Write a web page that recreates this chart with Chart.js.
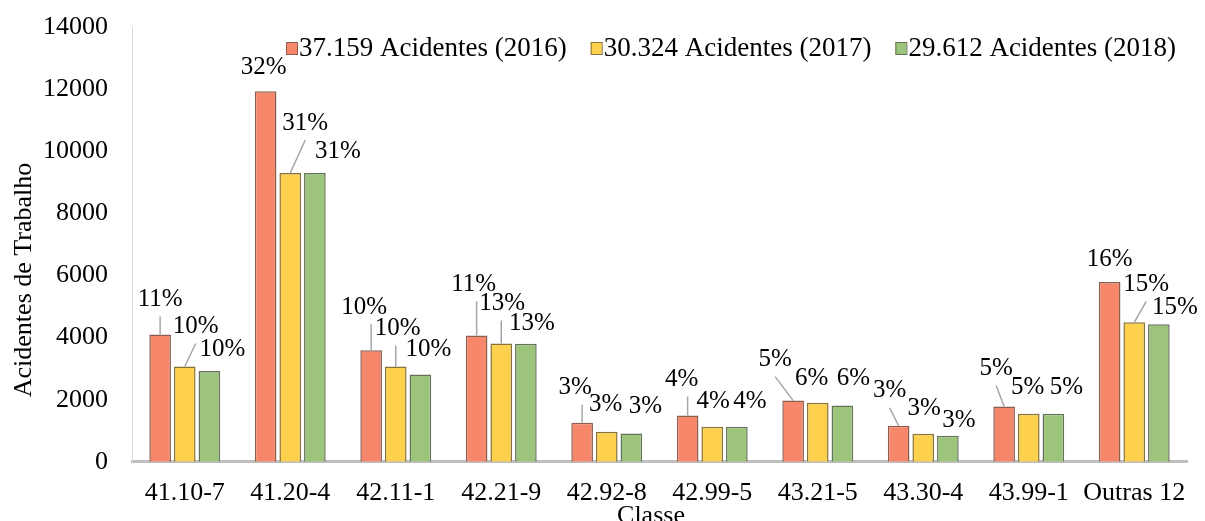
<!DOCTYPE html>
<html>
<head>
<meta charset="utf-8">
<script src="https://cdn.jsdelivr.net/npm/chart.js@4.4.0/dist/chart.umd.min.js"></script>
<style>
  html, body { margin: 0; padding: 0; background: #fff; }
  #wrap { width: 1205px; height: 521px; position: relative; }
</style>
</head>
<body>
<div id="wrap"><canvas id="chart"></canvas></div>
<script>
const classes = ["41.10-7", "41.20-4", "42.11-1", "42.21-9", "42.92-8", "42.99-5", "43.21-5", "43.30-4", "43.99-1", "Outras 12"];
const acidentes2016 = [4100, 11930, 3590, 4070, 1260, 1490, 1970, 1160, 1780, 5790];
const acidentes2017 = [3070, 9300, 3070, 3810, 970, 1130, 1900, 900, 1550, 4490];
const acidentes2018 = [2920, 9300, 2810, 3800, 910, 1130, 1810, 840, 1550, 4430];
const pct2016 = ["11%", "32%", "10%", "11%", "3%", "4%", "5%", "3%", "5%", "16%"];
const pct2017 = ["10%", "31%", "10%", "13%", "3%", "4%", "6%", "3%", "5%", "15%"];
const pct2018 = ["10%", "31%", "10%", "13%", "3%", "4%", "6%", "3%", "5%", "15%"];
const seriesNames = ["37.159 Acidentes (2016)", "30.324 Acidentes (2017)", "29.612 Acidentes (2018)"];
const yTicks = [0, 2000, 4000, 6000, 8000, 10000, 12000, 14000];

const FONT = "'Liberation Serif', 'Times New Roman', serif";
const fills = ["#f7876b", "#fdd04d", "#9cc47b"];
const borders = ["#8a5e50", "#87723a", "#66735c"];

// where each percentage label sits relative to the top of its bar (px)
const labelOffsets = [
  [[0, -35], [-2, -24], [-7, -43], [-3, -51], [-7, -35], [-6, -36], [-18, -41], [-9, -35], [-8, -38], [0, -23]],
  [[11, -40], [15, -50], [2, -38], [1, -40], [-1, -27], [1, -25], [-6, -24], [1, -25], [-1, -26], [12, -38]],
  [[13, -22], [23, -22], [8, -25], [6, -20], [14, -27], [13, -25], [11, -27], [11, -15], [13, -26], [16, -17]]
];
const pctLabels = [pct2016, pct2017, pct2018];

const extras = {
  id: "extras",
  afterDatasetsDraw(chart) {
    const ctx = chart.ctx;
    ctx.save();
    // data labels with leader lines
    ctx.font = "25px " + FONT;
    ctx.textAlign = "center";
    ctx.textBaseline = "middle";
    chart.data.datasets.forEach((ds, i) => {
      chart.getDatasetMeta(i).data.forEach((bar, j) => {
        const [dx, dy] = labelOffsets[i][j];
        const lx = bar.x + dx, ly = bar.y + dy;
        if (dy < -30) {
          ctx.strokeStyle = "#a6a6a6";
          ctx.lineWidth = 1.5;
          ctx.beginPath();
          ctx.moveTo(bar.x, bar.y);
          ctx.lineTo(Math.abs(dx) < 8 ? bar.x : lx, ly + 17);
          ctx.stroke();
        }
        ctx.fillStyle = "#000";
        ctx.fillText(pctLabels[i][j], lx, ly);
      });
    });

    // legend
    ctx.font = "27px " + FONT;
    ctx.textAlign = "left";
    let x = 286;
    seriesNames.forEach((name, i) => {
      ctx.fillStyle = fills[i];
      ctx.fillRect(x, 42, 11, 12);
      ctx.strokeStyle = borders[i];
      ctx.lineWidth = 1;
      ctx.strokeRect(x + 0.5, 42.5, 11, 12);
      ctx.fillStyle = "#000";
      ctx.fillText(name, x + 13, 49);
      x += 13 + ctx.measureText(name).width + 24;
    });

    // axis titles
    ctx.font = "26px " + FONT;
    ctx.textAlign = "center";
    ctx.textBaseline = "alphabetic";
    ctx.fillText("Classe", 651, 523);
    ctx.translate(31, 280);
    ctx.rotate(-Math.PI / 2);
    ctx.fillText("Acidentes de Trabalho", 0, 0);
    ctx.restore();
  }
};

new Chart(document.getElementById("chart"), {
  type: "bar",
  data: {
    labels: classes,
    datasets: [acidentes2016, acidentes2017, acidentes2018].map((values, i) => ({
      label: seriesNames[i],
      data: values,
      backgroundColor: fills[i],
      borderColor: borders[i],
      borderWidth: 1.5,
      categoryPercentage: 0.7,
      barPercentage: 0.88
    }))
  },
  options: {
    responsive: true,
    maintainAspectRatio: false,
    animation: false,
    layout: { autoPadding: false, padding: { left: 19, right: 18, top: 27, bottom: -4 } },
    plugins: { legend: { display: false }, tooltip: { enabled: false } },
    scales: {
      x: {
        grid: { display: false, drawTicks: false },
        border: { display: true, color: "#bfbfbf", width: 3 },
        ticks: { color: "#000", font: { family: FONT, size: 26 }, padding: 16, maxRotation: 0, autoSkip: false }
      },
      y: {
        min: 0,
        max: 14000,
        grid: { display: false, drawTicks: false },
        border: { display: true, color: "#d9d9d9", width: 1 },
        afterBuildTicks: scale => { scale.ticks = yTicks.map(v => ({ value: v })); },
        afterFit: scale => { scale.paddingTop = 0; scale.paddingBottom = 0; },
        ticks: { color: "#000", font: { family: FONT, size: 26 }, padding: 24, callback: v => String(v) }
      }
    }
  },
  plugins: [extras]
});
</script>
</body>
</html>
